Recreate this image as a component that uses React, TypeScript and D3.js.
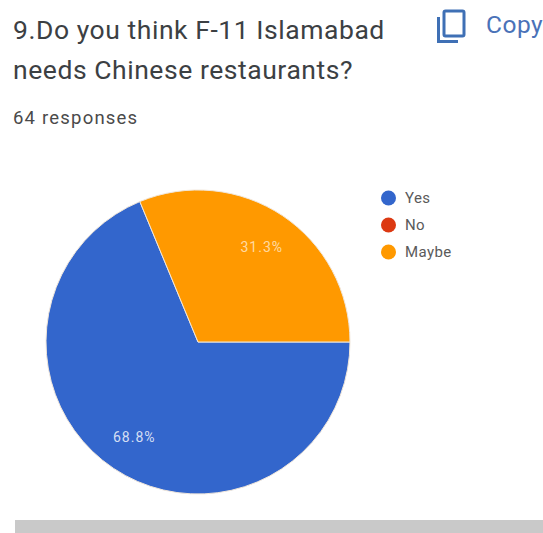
import React from "react";
import * as d3 from "d3";

const categories = ["Yes", "No", "Maybe"];
const responses = [44, 0, 20];
const colors = ["#3366cc", "#dc3912", "#ff9900"];
const titleLines = ["9.Do you think F-11 Islamabad", "needs Chinese restaurants?"];
const responseLabel = "64 responses";
const copyLabel = "Copy";

const FONT = "Roboto, sans-serif";

export default function App() {
  const total = d3.sum(responses);
  const cx = 198;
  const cy = 342;
  const radius = 152;

  // Slices run clockwise from three o'clock.
  const pie = d3
    .pie<number>()
    .sort(null)
    .startAngle(Math.PI / 2)
    .endAngle(Math.PI / 2 + 2 * Math.PI);
  const arcs = pie(responses);
  const arc = d3.arc<d3.PieArcDatum<number>>().innerRadius(0).outerRadius(radius);
  const labelArc = d3
    .arc<d3.PieArcDatum<number>>()
    .innerRadius(radius * 0.755)
    .outerRadius(radius * 0.755);

  const legendY = d3.scalePoint<string>().domain(categories).range([198, 252]);

  return (
    <svg
      width={543}
      height={533}
      style={{ position: "absolute", left: 0, top: 0, background: "#fff" }}
      fontFamily={FONT}
    >
      {titleLines.map((line, i) => (
        <text key={line} x={13} y={39 + i * 40} fontSize={26.5} fill="#3c4043" letterSpacing={0.55}>
          {line}
        </text>
      ))}
      <text x={13} y={124} fontSize={18.5} fill="#4a4a4a" letterSpacing={1.2}>
        {responseLabel}
      </text>

      {/* Copy button: two offset sheets */}
      <g fill="none" stroke="#3f70b5" strokeWidth={3}>
        <rect x={444} y={11} width={20} height={25} rx={1.5} />
        <path d="M 438.5 17 V 41.5 H 458" />
      </g>
      <text x={486} y={33} fontSize={24.5} fill="#4a72b8" letterSpacing={0.5}>
        {copyLabel}
      </text>

      <g transform={`translate(${cx},${cy})`}>
        {arcs.map((d, i) =>
          d.value > 0 ? (
            <path key={categories[i]} d={arc(d) ?? ""} fill={colors[i]} stroke="#f0e6da" strokeWidth={1} />
          ) : null
        )}
        {arcs.map((d, i) => {
          if (d.value === 0) return null;
          const [x, y] = labelArc.centroid(d);
          return (
            <text
              key={categories[i]}
              x={x}
              y={y}
              textAnchor="middle"
              dominantBaseline="central"
              fontSize={14}
              letterSpacing={1}
              fill="#fff"
              fillOpacity={i === 2 ? 0.65 : 0.8}
            >
              {((d.value / total) * 100).toFixed(1)}%
            </text>
          );
        })}
      </g>

      {categories.map((c, i) => (
        <g key={c}>
          <circle cx={388.5} cy={legendY(c)} r={7.5} fill={colors[i]} />
          <text x={405} y={legendY(c)} dominantBaseline="central" fontSize={15} letterSpacing={0.4} fill="#5a5a5a">
            {c}
          </text>
        </g>
      ))}

      <rect x={15} y={520} width={528} height={13} fill="#c9c9c9" />
    </svg>
  );
}
